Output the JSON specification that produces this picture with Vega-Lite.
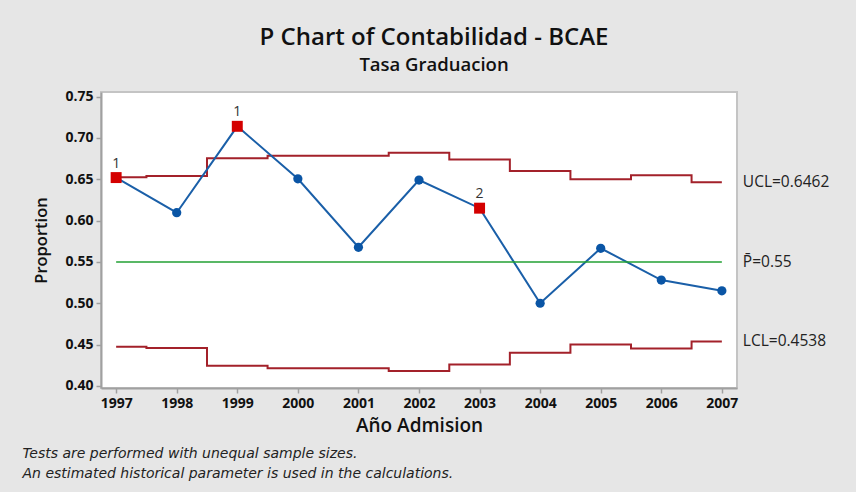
{
  "$schema": "https://vega.github.io/schema/vega-lite/v6.json",
  "autosize": {"type": "none"},
  "width": 636,
  "height": 296,
  "padding": {"left": 101, "top": 92, "right": 119, "bottom": 104},
  "background": "#e6e6e6",
  "config": {
    "font": "Open Sans",
    "view": {"fill": "white", "stroke": "#c4c4c4", "strokeWidth": 2},
    "axis": {
      "grid": false,
      "domainColor": "#a0a0a0",
      "domainWidth": 2,
      "tickColor": "#a0a0a0",
      "tickSize": 5,
      "tickWidth": 1.5,
      "labelFont": "Open Sans",
      "labelFontSize": 14,
      "labelFontWeight": "bold",
      "labelColor": "#111111",
      "titleFont": "Open Sans",
      "titleFontWeight": 600,
      "titleColor": "#111111"
    },
    "axisX": {"labelPadding": 3, "titlePadding": 6, "titleFontSize": 19},
    "axisY": {"labelPadding": 3, "titlePadding": 15, "titleFontSize": 16.5}
  },
  "title": {
    "text": "P Chart of Contabilidad - BCAE",
    "subtitle": "Tasa Graduacion",
    "anchor": "middle",
    "frame": "group",
    "dx": 15,
    "offset": 15,
    "font": "Open Sans",
    "fontSize": 24,
    "fontWeight": 600,
    "color": "#111111",
    "subtitleFont": "Open Sans",
    "subtitleFontSize": 18.5,
    "subtitleFontWeight": 600,
    "subtitleColor": "#111111",
    "subtitlePadding": 6
  },
  "datasets": {
    "pchart": [
      {"year": 1997, "p": 0.652, "ucl": 0.6525, "center": 0.55, "lcl": 0.4475, "test": "1"},
      {"year": 1998, "p": 0.6095, "ucl": 0.654, "center": 0.55, "lcl": 0.446, "test": ""},
      {"year": 1999, "p": 0.714, "ucl": 0.6755, "center": 0.55, "lcl": 0.4245, "test": "1"},
      {"year": 2000, "p": 0.6505, "ucl": 0.6785, "center": 0.55, "lcl": 0.4215, "test": ""},
      {"year": 2001, "p": 0.5677, "ucl": 0.6785, "center": 0.55, "lcl": 0.4215, "test": ""},
      {"year": 2002, "p": 0.649, "ucl": 0.682, "center": 0.55, "lcl": 0.418, "test": ""},
      {"year": 2003, "p": 0.615, "ucl": 0.674, "center": 0.55, "lcl": 0.426, "test": "2"},
      {"year": 2004, "p": 0.5, "ucl": 0.66, "center": 0.55, "lcl": 0.44, "test": ""},
      {"year": 2005, "p": 0.5665, "ucl": 0.65, "center": 0.55, "lcl": 0.45, "test": ""},
      {"year": 2006, "p": 0.528, "ucl": 0.6547, "center": 0.55, "lcl": 0.4453, "test": ""},
      {"year": 2007, "p": 0.515, "ucl": 0.6462, "center": 0.55, "lcl": 0.4538, "test": ""}
    ],
    "limits": [
      {"year": 2007, "label": "UCL=0.6462", "level": 0.6462},
      {"year": 2007, "label": "P\u0304=0.55", "level": 0.55},
      {"year": 2007, "label": "LCL=0.4538", "level": 0.4538}
    ]
  },
  "layer": [
    {
      "data": {"name": "pchart"},
      "layer": [
        {
          "mark": {"type": "line", "interpolate": "step", "color": "#a3212a", "strokeWidth": 2},
          "encoding": {
            "x": {
              "field": "year",
              "type": "quantitative",
              "scale": {"domain": [1996.75, 2007.25], "nice": false, "zero": false},
              "axis": {"values": [1997, 1998, 1999, 2000, 2001, 2002, 2003, 2004, 2005, 2006, 2007], "format": "d", "title": "Año Admision"}
            },
            "y": {"field": "ucl", "type": "quantitative", "title": "Proportion",
              "scale": {"domain": [0.3975, 0.7555], "nice": false, "zero": false},
              "axis": {"values": [0.4, 0.45, 0.5, 0.55, 0.6, 0.65, 0.7, 0.75], "format": ".2f", "title": "Proportion"}}
          }
        },
        {
          "mark": {"type": "line", "interpolate": "step", "color": "#a3212a", "strokeWidth": 2},
          "encoding": {
            "x": {"field": "year", "type": "quantitative", "title": "Año Admision"},
            "y": {"field": "lcl", "type": "quantitative", "title": "Proportion"}
          }
        },
        {
          "mark": {"type": "line", "color": "#1a5fa8", "strokeWidth": 2},
          "encoding": {
            "x": {"field": "year", "type": "quantitative", "title": "Año Admision"},
            "y": {"field": "p", "type": "quantitative", "title": "Proportion"}
          }
        },
        {
          "transform": [{"filter": "datum.test == ''"}],
          "mark": {"type": "point", "shape": "circle", "filled": true, "color": "#0a55a5", "opacity": 1, "size": 85},
          "encoding": {
            "x": {"field": "year", "type": "quantitative", "title": "Año Admision"},
            "y": {"field": "p", "type": "quantitative", "title": "Proportion"}
          }
        },
        {
          "transform": [{"filter": "datum.test != ''"}],
          "mark": {"type": "point", "shape": "square", "filled": true, "color": "#d40000", "opacity": 1, "size": 120},
          "encoding": {
            "x": {"field": "year", "type": "quantitative", "title": "Año Admision"},
            "y": {"field": "p", "type": "quantitative", "title": "Proportion"}
          }
        },
        {
          "transform": [{"filter": "datum.test != ''"}],
          "mark": {"type": "text", "dy": -14, "fontSize": 14, "color": "#333333", "font": "Open Sans"},
          "encoding": {
            "x": {"field": "year", "type": "quantitative", "title": "Año Admision"},
            "y": {"field": "p", "type": "quantitative", "title": "Proportion"},
            "text": {"field": "test"}
          }
        },
        {
          "data": {"name": "limits"},
          "mark": {"type": "text", "align": "left", "baseline": "middle", "dx": 21, "fontSize": 15.5, "color": "#222222", "font": "Open Sans"},
          "encoding": {
            "x": {"field": "year", "type": "quantitative", "title": "Año Admision"},
            "y": {"field": "level", "type": "quantitative", "title": "Proportion"},
            "text": {"field": "label"}
          }
        }
      ]
    },
    {
      "data": {"name": "pchart"},
      "mark": {"type": "line", "color": "#22a033", "strokeWidth": 1.5},
      "encoding": {
        "x": {
          "field": "year",
          "type": "quantitative",
          "scale": {"domain": [1996.75, 2007.25], "nice": false, "zero": false},
          "axis": {
            "orient": "bottom",
            "title": ["Tests are performed with unequal sample sizes.", "An estimated historical parameter is used in the calculations."],
            "labels": false,
            "ticks": false,
            "domain": false,
            "titleFont": "DejaVu Sans",
            "titleFontStyle": "italic",
            "titleFontWeight": "normal",
            "titleFontSize": 14,
            "titleColor": "#222222",
            "titleX": -79,
            "titleY": 58,
            "titleAlign": "left",
            "titleAnchor": "start",
            "titleBaseline": "top",
            "titleLineHeight": 20,
            "titleAngle": 0
          }
        },
        "y": {"field": "center", "type": "quantitative", "title": "Proportion"}
      }
    }
  ],
  "resolve": {"axis": {"x": "independent"}}
}
